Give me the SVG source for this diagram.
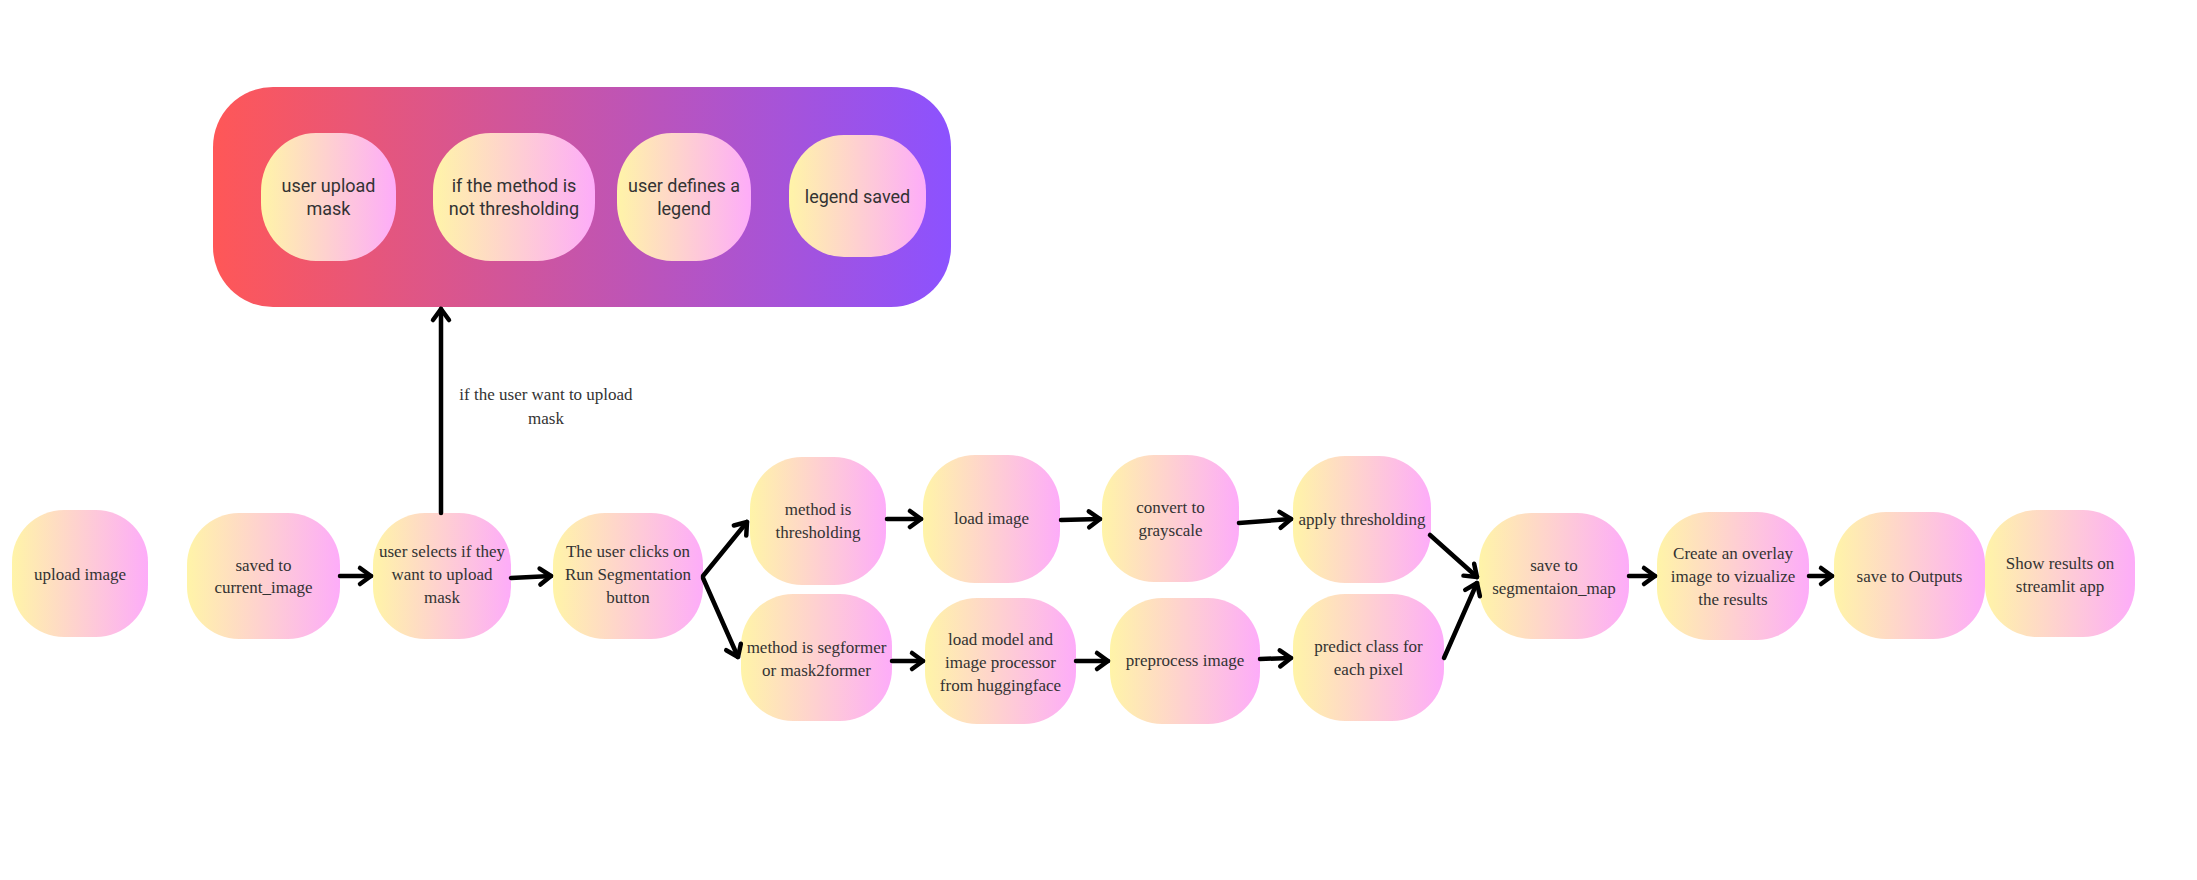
<svg xmlns="http://www.w3.org/2000/svg" width="2197" height="880" viewBox="0 0 2197 880">
<style>
.node rect{fill:url(#ng)}
.node text{font-family:"Liberation Serif","Times New Roman",serif;font-size:17px;fill:#333;text-anchor:middle}
.inner rect{fill:url(#ng)}
.inner text{font-family:Roboto,"Open Sans",sans-serif;font-size:18px;fill:#333;text-anchor:middle}
.conn path{fill:none;stroke:#000;stroke-width:4.5;stroke-linecap:round;marker-end:url(#ah)}
.lbl{font-family:"Liberation Serif","Times New Roman",serif;font-size:17px;fill:#333;text-anchor:middle}
</style>
<defs>
<linearGradient id="ng" x1="0" y1="0" x2="1" y2="0">
<stop offset="0" stop-color="#fff4a8"/>
<stop offset="1" stop-color="#fdacf9"/>
</linearGradient>
<linearGradient id="cg" x1="0" y1="0" x2="1" y2="0">
<stop offset="0" stop-color="#ff5757"/>
<stop offset="1" stop-color="#8c52ff"/>
</linearGradient>
<marker id="ah" viewBox="-16 -12 20 24" refX="0" refY="0" markerWidth="20" markerHeight="24" markerUnits="userSpaceOnUse" orient="auto" overflow="visible">
<path d="M-11,-8 L0,0 L-11,8" fill="none" stroke="#000" stroke-width="4.5" stroke-linecap="round" stroke-linejoin="round"/>
</marker>
</defs>
<rect width="2197" height="880" fill="#fff"/>

<g id="container">
<rect x="213" y="87" width="738" height="220" rx="60" ry="60" fill="url(#cg)"/>
<g id="i1" class="inner"><rect x="261" y="133" width="135" height="128" rx="55" ry="58"/><text x="328.5" y="192">user upload</text><text x="328.5" y="215">mask</text></g>
<g id="i2" class="inner"><rect x="433" y="133" width="162" height="128" rx="58" ry="58"/><text x="514" y="192">if the method is</text><text x="514" y="215">not thresholding</text></g>
<g id="i3" class="inner"><rect x="617" y="133" width="134" height="128" rx="55" ry="58"/><text x="684" y="192">user defines a</text><text x="684" y="215">legend</text></g>
<g id="i4" class="inner"><rect x="789" y="135" width="137" height="122" rx="55" ry="56"/><text x="857.5" y="203">legend saved</text></g>
</g>

<g id="n1" class="node"><rect x="12" y="510" width="136" height="127" rx="52" ry="52"/><text x="80" y="580">upload image</text></g>
<g id="n2" class="node"><rect x="187" y="513" width="153" height="126" rx="52" ry="52"/><text x="263.5" y="571">saved to</text><text x="263.5" y="593">current_image</text></g>
<g id="n3" class="node"><rect x="373" y="513" width="138" height="126" rx="52" ry="52"/><text x="442" y="557">user selects if they</text><text x="442" y="580">want to upload</text><text x="442" y="603">mask</text></g>
<g id="n4" class="node"><rect x="553" y="513" width="150" height="126" rx="52" ry="52"/><text x="628" y="557">The user clicks on</text><text x="628" y="580">Run Segmentation</text><text x="628" y="603">button</text></g>
<g id="n5" class="node"><rect x="750" y="457" width="136" height="128" rx="52" ry="52"/><text x="818" y="515">method is</text><text x="818" y="538">thresholding</text></g>
<g id="n6" class="node"><rect x="923" y="455" width="137" height="128" rx="52" ry="52"/><text x="991.5" y="524">load image</text></g>
<g id="n7" class="node"><rect x="1102" y="455" width="137" height="127" rx="52" ry="52"/><text x="1170.5" y="513">convert to</text><text x="1170.5" y="536">grayscale</text></g>
<g id="n8" class="node"><rect x="1293" y="456" width="138" height="127" rx="52" ry="52"/><text x="1362" y="525">apply thresholding</text></g>
<g id="n9" class="node"><rect x="741" y="594" width="151" height="127" rx="52" ry="52"/><text x="816.5" y="653">method is segformer</text><text x="816.5" y="676">or mask2former</text></g>
<g id="n10" class="node"><rect x="925" y="598" width="151" height="126" rx="52" ry="52"/><text x="1000.5" y="645">load model and</text><text x="1000.5" y="668">image processor</text><text x="1000.5" y="691">from huggingface</text></g>
<g id="n11" class="node"><rect x="1110" y="598" width="150" height="126" rx="52" ry="52"/><text x="1185" y="666">preprocess image</text></g>
<g id="n12" class="node"><rect x="1293" y="594" width="151" height="127" rx="52" ry="52"/><text x="1368.5" y="652">predict class for</text><text x="1368.5" y="675">each pixel</text></g>
<g id="n13" class="node"><rect x="1479" y="513" width="150" height="126" rx="52" ry="52"/><text x="1554" y="571">save to</text><text x="1554" y="594">segmentaion_map</text></g>
<g id="n14" class="node"><rect x="1657" y="512" width="152" height="128" rx="52" ry="52"/><text x="1733" y="559">Create an overlay</text><text x="1733" y="582">image to vizualize</text><text x="1733" y="605">the results</text></g>
<g id="n15" class="node"><rect x="1834" y="512" width="151" height="127" rx="52" ry="52"/><text x="1909.5" y="582">save to Outputs</text></g>
<g id="n16" class="node"><rect x="1985" y="510" width="150" height="127" rx="52" ry="52"/><text x="2060" y="569">Show results on</text><text x="2060" y="592">streamlit app</text></g>

<g id="connectors" class="conn">
<path d="M340,576 L371,576"/>
<path d="M511,578 L551,576"/>
<path d="M703,576 L747,522"/>
<path d="M703,578 L738,657"/>
<path d="M887,519 L921,519"/>
<path d="M1061,520 L1100,519"/>
<path d="M1239,523 L1291,519"/>
<path d="M1430,535 L1477,577"/>
<path d="M1444,658 L1477,583"/>
<path d="M892,661 L923,661"/>
<path d="M1076,661 L1108,661"/>
<path d="M1260,659 L1291,658"/>
<path d="M1629,576 L1655,576"/>
<path d="M1809,576 L1832,576"/>
<path d="M441,513 L441,309"/>
</g>
<text class="lbl" x="546" y="400">if the user want to upload</text>
<text class="lbl" x="546" y="424">mask</text>
</svg>
